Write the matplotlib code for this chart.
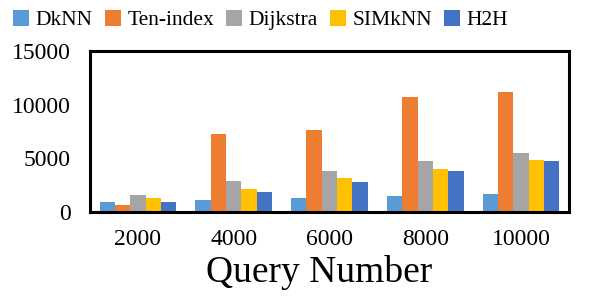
import matplotlib
matplotlib.use('Agg')
import matplotlib.pyplot as plt
import numpy as np

# Data
query_numbers = ['2000', '4000', '6000', '8000', '10000']
series_names = ['DkNN', 'Ten-index', 'Dijkstra', 'SIMkNN', 'H2H']
dknn = [930, 1120, 1300, 1490, 1680]
ten_index = [650, 7270, 7640, 10720, 11180]
dijkstra = [1580, 2890, 3820, 4750, 5500]
simknn = [1300, 2140, 3140, 4010, 4850]
h2h = [930, 1890, 2800, 3820, 4750]
colors = ['#5B9BD5', '#ED7D31', '#A5A5A5', '#FFC000', '#4472C4']

plt.rcParams['font.family'] = ['Liberation Serif', 'DejaVu Serif']

fig = plt.figure(figsize=(5.92, 3.04), dpi=100)
ax = fig.add_axes([0.152, 0.3026, 0.809, 0.5296])

x = np.arange(len(query_numbers))
width = 0.16
series = [dknn, ten_index, dijkstra, simknn, h2h]
for i, (name, vals) in enumerate(zip(series_names, series)):
    ax.bar(x + (i - 2) * width, vals, width, color=colors[i], label=name)

ax.set_xlim(-0.5, len(query_numbers) - 0.5)
ax.set_ylim(0, 15000)
ax.set_yticks([0, 5000, 10000, 15000])
ax.set_xticks(x)
ax.set_xticklabels(query_numbers)
ax.tick_params(axis='both', length=0, labelsize=17)
ax.tick_params(axis='y', pad=14)
ax.tick_params(axis='x', pad=12)
for s in ax.spines.values():
    s.set_linewidth(2.2)
    s.set_color('black')
ax.set_xlabel('Query Number', fontsize=27)
ax.xaxis.set_label_coords(0.4775, -0.375, transform=ax.transAxes)
ax.xaxis.label.set_va('center')

fig.legend(loc='upper center', bbox_to_anchor=(0.44, 1.01), ncol=5,
           fontsize=15.5, frameon=False, handlelength=0.75, handleheight=0.75,
           handletextpad=0.3, columnspacing=0.55, borderaxespad=0.2)

fig.savefig('out.png', dpi=100)
